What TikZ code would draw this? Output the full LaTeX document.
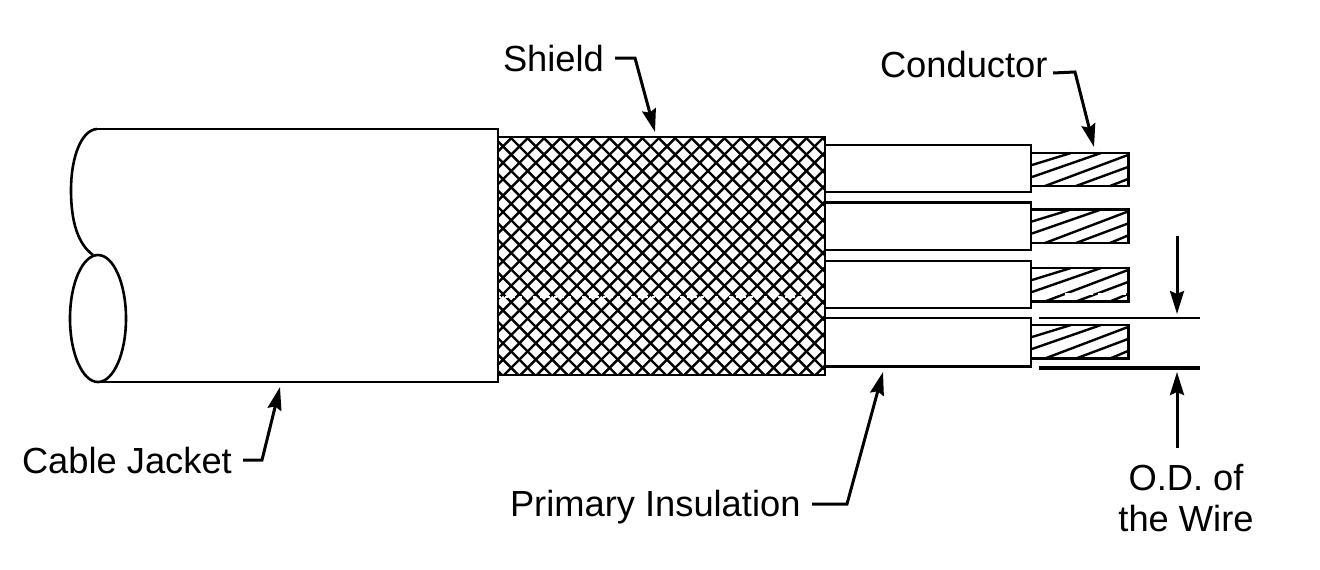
\documentclass[tikz,border=0pt]{standalone}
\usepackage{fontspec}
\setmainfont{Liberation Sans}
\usetikzlibrary{arrows.meta}
\tikzset{
  lbl/.style={inner sep=0pt,outer sep=0pt,font=\fontsize{36.3}{41}\selectfont,anchor=base west},
  ln/.style={line width=2.6pt,black},
  leader/.style={line width=3pt,black,-{Stealth[length=23pt,width=14pt,inset=3pt]},line join=miter},
  hatch/.style={line width=2.4pt,black},
}
\begin{document}
\begin{tikzpicture}[x=1pt,y=-1pt]
\useasboundingbox (0,0) rectangle (1320,570);
% jacket
\draw[ln] (97,129) -- (498,129) -- (498,382) -- (98,382);
\draw[ln] (97,129) .. controls (81,130) and (71,158) .. (71,190) .. controls (71,222) and (78,244) .. (93,255);
\draw[ln] (98,318.5) ellipse [x radius=28,y radius=63.5];
% shield
\begin{scope}
\clip (498,137) rectangle (825,375);
\foreach \k in {0,...,36}{
  \draw[hatch] ({498+16.4*\k-240},375) -- ++(240,-240);
  \draw[hatch] ({498+16.4*\k-240+6},137) -- ++(240,240);
}
\draw[white,line width=2pt,dash pattern=on 3pt off 4pt] (498,297) -- (825,297);
\end{scope}
\draw[line width=2.6pt] (498,137) rectangle (825,375);
% wires
\foreach \t/\b in {145/192,202.5/250,261/308,318/366.5}{
  \draw[ln] (825,\t) -- (1031,\t) -- (1031,\b) -- (825,\b);
}
% conductors
\foreach \t/\h/\n in {153/33/0,209.5/33.5/0,268/33.5/1,325/33.5/0}{
  \begin{scope}[shift={(1032,\t)}]
    \draw[hatch] (0,12) -- (39,0);
    \draw[hatch] (0,24) -- (69,0);
    \draw[hatch] (13,\h) -- (96,2);
    \draw[hatch] (44,\h) -- (96,14);
    \draw[hatch] (78,\h) -- (96,26);
    \ifnum\n=1
      \draw[white,line width=2pt,dash pattern=on 6pt off 5pt] (0,25.5) -- (96,25.5);
    \fi
    \draw[ln] (0,0) -- (96.5,0) -- (96.5,\h) -- (0,\h);
  \end{scope}
}
% O.D. lines
\draw[line width=2.6pt] (1039,318) -- (1200,318);
\draw[line width=3.2pt] (1039,368) -- (1200,368);
% labels
\node[lbl] (shield) at (503,71.5) {Shield};
\node[lbl] (conductor) at (880,77) {Conductor};
\node[lbl] (jacket) at (22,473) {Cable Jacket};
\node[lbl] (primary) at (510,516) {Primary Insulation};
\node[inner sep=0pt,font=\fontsize{36.3}{41}\selectfont,align=center,anchor=base] (od) at (1186,531) {O.D. of\\the Wire};
% leaders
\coordinate (s1) at (615,58); \coordinate (s2) at (635,58); \coordinate (s3) at (655,132);
\coordinate (c1) at (1053,73); \coordinate (c2) at (1075,72); \coordinate (c3) at (1094,147);
\coordinate (j1) at (243,460); \coordinate (j2) at (262,460); \coordinate (j3) at (280,387);
\coordinate (p1) at (812,504); \coordinate (p2) at (847,504); \coordinate (p3) at (883,372);
\coordinate (o1) at (1177,236); \coordinate (o2) at (1177,314);
\coordinate (o3) at (1177,448); \coordinate (o4) at (1177,372);
\draw[leader] (s1) -- (s2) -- (s3);
\draw[leader] (c1) -- (c2) -- (c3);
\draw[leader] (j1) -- (j2) -- (j3);
\draw[leader] (p1) -- (p2) -- (p3);
\draw[leader] (o1) -- (o2);
\draw[leader] (o3) -- (o4);
\end{tikzpicture}
\end{document}
